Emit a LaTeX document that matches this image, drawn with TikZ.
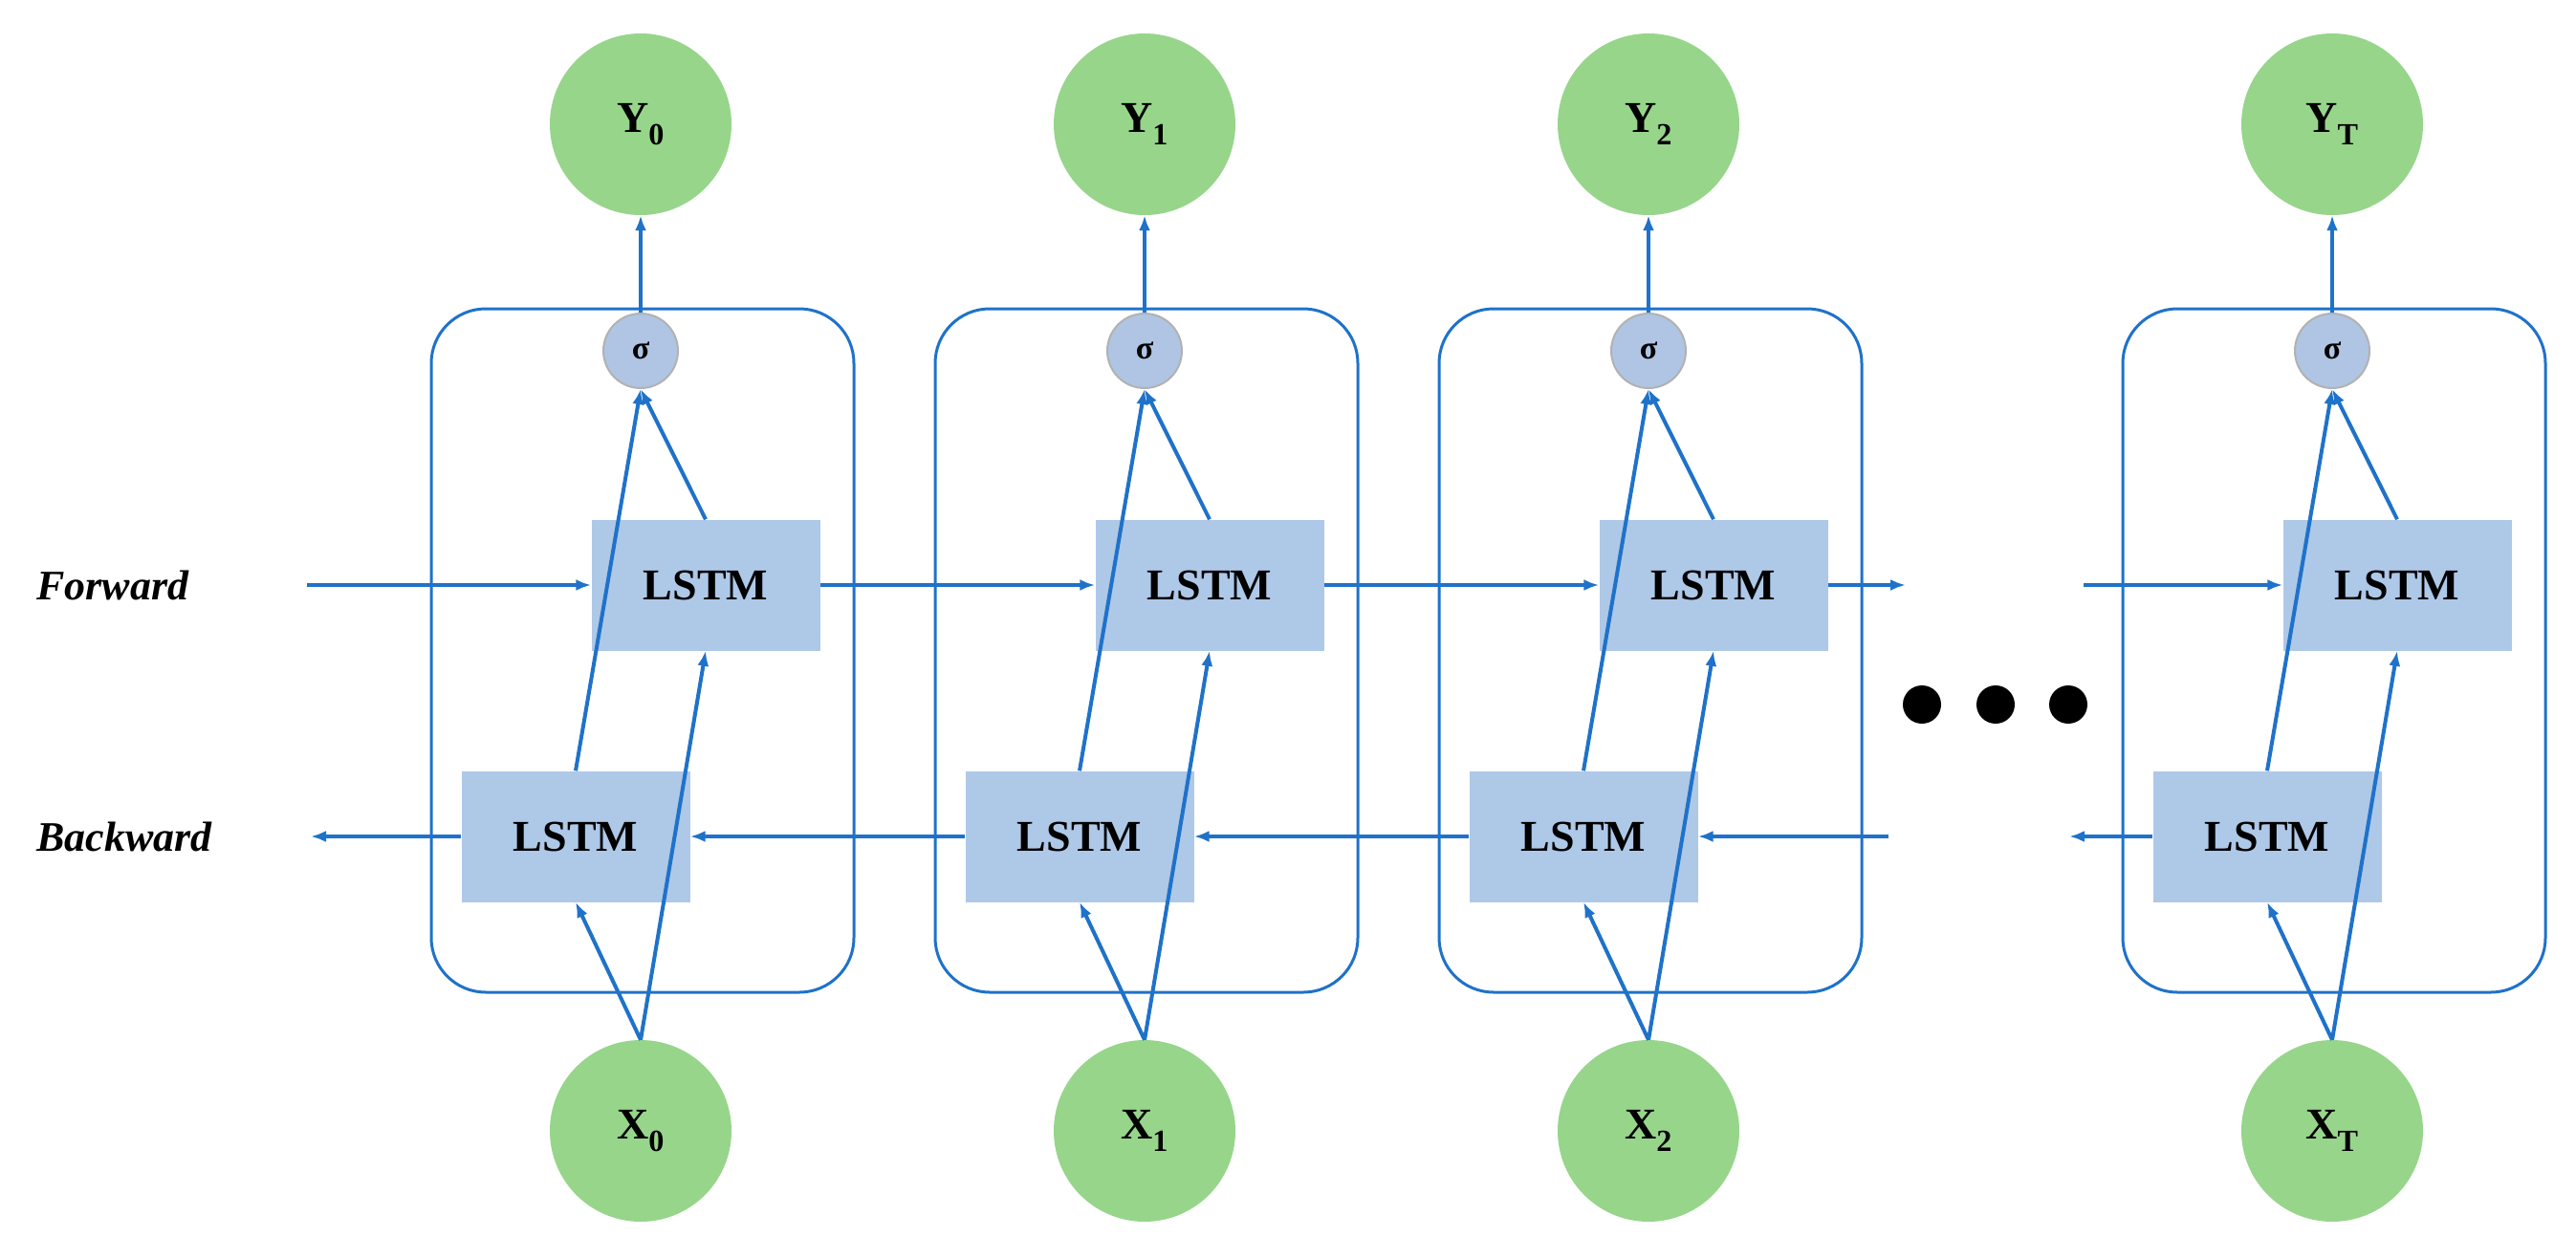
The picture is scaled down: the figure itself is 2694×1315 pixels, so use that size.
\documentclass[tikz,border=0pt]{standalone}
\usepackage{fontspec}
\setmainfont{Liberation Serif}
\usetikzlibrary{arrows.meta}
\definecolor{ln}{HTML}{1F72C9}
\definecolor{lstm}{HTML}{AEC8E8}
\definecolor{grn}{HTML}{97D58B}
\definecolor{sg}{HTML}{AFC5E3}
\tikzset{
 conn/.style={draw=ln,line width=4pt,-{Latex[length=16pt,width=12pt]}},
 cell/.style={draw=ln,line width=3pt,rounded corners=57pt},
 lstmbox/.style={fill=lstm,minimum width=239pt,minimum height=137pt,inner sep=0pt,font=\fontsize{46}{50}\selectfont\bfseries},
 io/.style={circle,fill=grn,minimum size=190pt,inner sep=0pt,font=\fontsize{46}{50}\selectfont\bfseries},
 sig/.style={circle,fill=sg,draw=gray!60,line width=2pt,minimum size=78pt,inner sep=0pt,font=\fontsize{34}{36}\selectfont\bfseries},
 lab/.style={font=\fontsize{44}{48}\selectfont\bfseries\itshape,anchor=west}
}
\begin{document}
\begin{tikzpicture}[x=1pt,y=-1pt]
\useasboundingbox (0,0) rectangle (2694,1315);
\foreach \i/\cx/\s in {0/670/0,1/1197/1,2/1724/2,3/2439/T}{
  \draw[cell] (\cx-219,323) rectangle (\cx+223,1038);
  \node[io] (y\i) at (\cx,130) {Y\textsubscript{\s}};
  \node[io] (x\i) at (\cx,1183) {X\textsubscript{\s}};
  \node[sig] (s\i) at (\cx,367) {σ};
  \node[lstmbox] (f\i) at (\cx+68,612) {LSTM};
  \node[lstmbox] (b\i) at (\cx-68,875) {LSTM};
  \draw[conn] (s\i.north) -- (y\i.south);
  \draw[conn] (b\i.north) -- (s\i.south);
  \draw[conn] (f\i.north) -- (s\i.south);
  \draw[conn] (x\i.north) -- (b\i.south);
  \draw[conn] (x\i.north) -- (f\i.south);
}
\node[lab] (fw) at (35,612) {Forward};
\node[lab] (bw) at (35,875) {Backward};
\coordinate (fs) at (321,612);
\coordinate (be) at (325,875);
\coordinate (fe2) at (1993,612);
\coordinate (fs3) at (2179,612);
\coordinate (bs2) at (1975,875);
\coordinate (be3) at (2164,875);
\draw[conn] (fs) -- (f0.west);
\draw[conn] (f0.east) -- (f1.west);
\draw[conn] (f1.east) -- (f2.west);
\draw[conn] (f2.east) -- (fe2);
\draw[conn] (fs3) -- (f3.west);
\draw[conn] (b0.west) -- (be);
\draw[conn] (b1.west) -- (b0.east);
\draw[conn] (b2.west) -- (b1.east);
\draw[conn] (bs2) -- (b2.east);
\draw[conn] (b3.west) -- (be3);
\foreach \d/\x in {1/2010,2/2087,3/2163} \fill (\x,737) circle (20pt);
\end{tikzpicture}
\end{document}
